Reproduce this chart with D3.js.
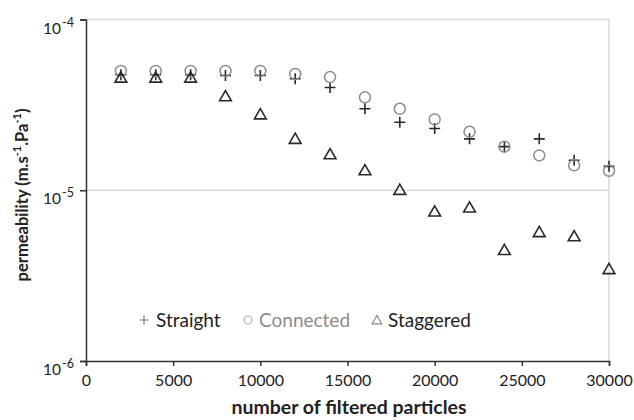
<!DOCTYPE html>
<html>
<head>
<meta charset="utf-8">
<script src="https://cdn.jsdelivr.net/npm/d3@7"></script>
<style>
  body { margin: 0; background: #fff; }
  text { font-family: Lato, "Open Sans", sans-serif; }
</style>
</head>
<body>
<div id="chart"></div>
<script>
// data
let particles = [2000, 4000, 6000, 8000, 10000, 12000, 14000, 16000, 18000, 20000, 22000, 24000, 26000, 28000, 30000];
let straight = [4.75e-5, 4.75e-5, 4.75e-5, 4.7e-5, 4.7e-5, 4.5e-5, 4.0e-5, 3.0e-5, 2.5e-5, 2.3e-5, 2.0e-5, 1.8e-5, 2.0e-5, 1.5e-5, 1.38e-5];
let connected = [5.0e-5, 5.0e-5, 5.0e-5, 5.0e-5, 5.0e-5, 4.8e-5, 4.6e-5, 3.5e-5, 3.0e-5, 2.6e-5, 2.2e-5, 1.8e-5, 1.6e-5, 1.4e-5, 1.3e-5];
let staggered = [4.5e-5, 4.5e-5, 4.5e-5, 3.5e-5, 2.74e-5, 1.97e-5, 1.6e-5, 1.29e-5, 9.9e-6, 7.4e-6, 7.8e-6, 4.4e-6, 5.6e-6, 5.3e-6, 3.4e-6];
let xTicks = [0, 5000, 10000, 15000, 20000, 25000, 30000];
let yTicks = [1e-6, 1e-5, 1e-4];
let seriesNames = ["Straight", "Connected", "Staggered"];

let w = 634, h = 420;
let margin = {top: 19.5, right: 25, bottom: 59, left: 86};

let svg = d3.select("#chart").append("svg")
  .attr("width", w)
  .attr("height", h);

let x = d3.scaleLinear().domain([0, 30000]).range([margin.left, w - margin.right]);
let y = d3.scaleLog().domain([1e-6, 1e-4]).range([h - margin.bottom, margin.top]);

// grid + frame
svg.selectAll("line.grid")
  .data(yTicks.slice(1))
  .enter().append("line")
  .attr("x1", x(0)).attr("x2", x(30000))
  .attr("y1", d => y(d)).attr("y2", d => y(d))
  .attr("stroke", "#d9d9d9").attr("stroke-width", 1.5);

svg.append("line")
  .attr("x1", x(30000)).attr("x2", x(30000))
  .attr("y1", y(1e-4)).attr("y2", y(1e-6))
  .attr("stroke", "#d9d9d9").attr("stroke-width", 1.5);

// x axis
let xAxis = svg.append("g")
  .attr("transform", "translate(0," + y(1e-6) + ")")
  .call(d3.axisBottom(x).tickValues(xTicks).tickSize(5).tickPadding(9).tickFormat(d3.format("d")));
xAxis.select(".domain").attr("stroke", "#333").attr("stroke-width", 1.5);
xAxis.selectAll(".tick line").attr("stroke", "#333").attr("stroke-width", 1.5);
xAxis.selectAll(".tick text").attr("font-size", 16).attr("fill", "#222")
  .style("font-family", "Lato, sans-serif");

// y axis
let yAxis = svg.append("g")
  .attr("transform", "translate(" + x(0) + ",0)")
  .call(d3.axisLeft(y).tickValues(yTicks).tickSize(6).tickFormat(""));
yAxis.select(".domain").attr("stroke", "#333").attr("stroke-width", 1.5);
yAxis.selectAll(".tick line").attr("stroke", "#333").attr("stroke-width", 1.5);

let yLab = yAxis.selectAll(".tick").append("text")
  .attr("x", -12).attr("y", 13.5)
  .attr("text-anchor", "end")
  .attr("fill", "#222")
  .attr("font-size", 15.5);
yLab.append("tspan").text("10");
yLab.append("tspan").attr("font-size", 12.5).attr("dx", 1).attr("dy", -7)
  .text(d => "-" + Math.round(-Math.log10(d)));

// axis titles
svg.append("text")
  .attr("x", 349).attr("y", 414)
  .attr("text-anchor", "middle")
  .attr("font-size", 19.5).attr("font-weight", "bold").attr("fill", "#222")
  .text("number of filtered particles");

let yt = svg.append("text")
  .attr("transform", "translate(28," + 195 + ")rotate(-90)")
  .attr("text-anchor", "middle")
  .attr("font-size", 16.5).attr("font-weight", "bold").attr("fill", "#222");
yt.append("tspan").text("permeability (m.s");
yt.append("tspan").attr("font-size", 11).attr("dy", -7).text("-1");
yt.append("tspan").attr("dy", 7).text(".Pa");
yt.append("tspan").attr("font-size", 11).attr("dy", -7).text("-1");
yt.append("tspan").attr("dy", 7).text(")");

// marker shapes
function plusPath(s) {
  return "M" + (-s) + ",0H" + s + "M0," + (-s) + "V" + s;
}
let tri = d3.symbol().type(d3.symbolTriangle).size(60);

// straight
svg.selectAll("path.straight")
  .data(particles)
  .enter().append("path")
  .attr("d", plusPath(5.5))
  .attr("transform", (d, i) => "translate(" + x(d) + "," + y(straight[i]) + ")")
  .attr("stroke", "#2a2a2a").attr("stroke-width", 1.6).attr("fill", "none");

// connected
svg.selectAll("circle.connected")
  .data(particles)
  .enter().append("circle")
  .attr("cx", d => x(d))
  .attr("cy", (d, i) => y(connected[i]))
  .attr("r", 5.5)
  .attr("stroke", "#8c8c8c").attr("stroke-width", 1.5).attr("fill", "none");

// staggered
svg.selectAll("path.staggered")
  .data(particles)
  .enter().append("path")
  .attr("d", tri)
  .attr("transform", (d, i) => "translate(" + x(d) + "," + y(staggered[i]) + ")")
  .attr("stroke", "#2a2a2a").attr("stroke-width", 1.6).attr("fill", "none");

// legend
let ly = 320;
let legend = svg.append("g");
legend.append("path").attr("d", plusPath(4.5))
  .attr("transform", "translate(144," + ly + ")")
  .attr("stroke", "#777").attr("stroke-width", 1.2).attr("fill", "none");
legend.append("text").attr("x", 156).attr("y", 327)
  .attr("font-size", 19).attr("fill", "#222").text(seriesNames[0]);
legend.append("circle").attr("cx", 248).attr("cy", ly).attr("r", 4)
  .attr("stroke", "#aaa").attr("stroke-width", 1.2).attr("fill", "none");
legend.append("text").attr("x", 259).attr("y", 327)
  .attr("font-size", 19).attr("fill", "#8c8c8c").text(seriesNames[1]);
legend.append("path").attr("d", d3.symbol().type(d3.symbolTriangle).size(40))
  .attr("transform", "translate(377," + (ly + 1) + ")")
  .attr("stroke", "#888").attr("stroke-width", 1.2).attr("fill", "none");
legend.append("text").attr("x", 388).attr("y", 327)
  .attr("font-size", 19).attr("fill", "#222").text(seriesNames[2]);
</script>
</body>
</html>
